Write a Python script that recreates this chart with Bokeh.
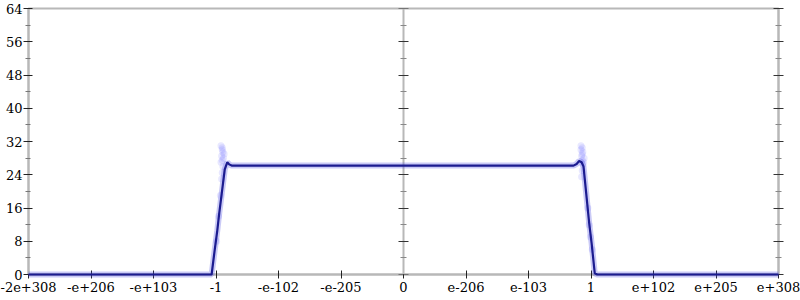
from bokeh.plotting import figure
from bokeh.models import LinearAxis, FixedTicker, Range1d
from bokeh.embed import file_html
from bokeh.resources import INLINE

# x positions are in "flonum ordinal" display units (one unit per tick)
x_ticks = [-6, -5, -4, -3, -2, -1, 0, 1, 2, 3, 4, 5, 6]
x_labels = ["-2e+308", "-e+206", "-e+103", "-1", "-e-102", "-e-205", "0",
            "e-206", "e-103", "1", "e+102", "e+205", "e+308"]
y_ticks = [0, 8, 16, 24, 32, 40, 48, 56, 64]
y_minor = [4, 12, 20, 28, 36, 44, 52, 60]

# density curve
line_x = [-6, -3.07, -3.02, -2.98, -2.95, -2.9, -2.86, -2.82, -2.79, -2.75,
          -1.5, 0, 1.5, 2.72, 2.77, 2.81, 2.85, 2.88, 2.93, 2.97, 3.01, 3.06, 3.1, 6]
line_y = [0, 0, 6, 10.5, 14.5, 20.5, 25.3, 27.0, 26.5, 26.2,
          26.2, 26.2, 26.2, 26.2, 26.6, 27.3, 27.0, 26.0, 18.5, 12.5, 7.5, 0.3, 0, 0]

# faint sample points (spikes near the ±1 edges)
pts_x = [-2.91, -2.90, -2.89, -2.90, -2.91, -2.89, -2.90, -2.92, -2.90, -2.88,
         -2.96, -2.93, -2.99, -2.87, -2.92,
         2.85, 2.86, 2.87, 2.86, 2.85, 2.87, 2.86, 2.84, 2.86, 2.88,
         2.95, 2.99, 3.02, 2.97, 2.89, 2.84]
pts_y = [23.0, 24.5, 26.0, 27.5, 28.5, 29.5, 30.5, 31.0, 30.0, 28.0,
         14.0, 19.0, 8.0, 29.0, 27.0,
         23.5, 25.0, 26.5, 27.5, 28.5, 29.5, 30.5, 31.0, 29.0, 27.0,
         16.0, 9.0, 6.0, 12.0, 28.0, 30.0]

FONT = "DejaVu Serif"
AXIS_GRAY = "#b8b8b8"

p = figure(width=800, height=300, x_range=Range1d(-6, 6), y_range=Range1d(0, 64),
           output_backend="svg", toolbar_location=None,
           min_border_left=28, min_border_right=22, min_border_top=8, min_border_bottom=26)
p.grid.visible = False
p.outline_line_color = AXIS_GRAY
p.outline_line_width = 2
p.background_fill_color = "white"
p.border_fill_color = "white"

# bottom axis
xa = p.xaxis[0]
xa.ticker = FixedTicker(ticks=x_ticks)
xa.major_label_overrides = {t: l for t, l in zip(x_ticks, x_labels)}
xa.axis_line_color = AXIS_GRAY
xa.axis_line_width = 2
xa.major_tick_in = 4
xa.major_tick_out = 4
xa.major_tick_line_color = "#222222"
xa.minor_tick_line_color = None
xa.major_label_text_font = FONT
xa.major_label_text_font_size = "13px"
xa.major_label_text_color = "black"
xa.major_label_standoff = 3

# left axis
ya = p.yaxis[0]
ya.ticker = FixedTicker(ticks=y_ticks, minor_ticks=y_minor)
ya.axis_line_color = AXIS_GRAY
ya.axis_line_width = 2
ya.major_tick_in = 4
ya.major_tick_out = 5
ya.minor_tick_in = 2
ya.minor_tick_out = 3
ya.major_tick_line_color = "#222222"
ya.minor_tick_line_color = "#777777"
ya.major_label_text_font = FONT
ya.major_label_text_font_size = "13px"
ya.major_label_text_color = "black"
ya.major_label_standoff = 1


def bare_axis(**kw):
    ax = LinearAxis(ticker=FixedTicker(ticks=y_ticks, minor_ticks=y_minor), **kw)
    ax.axis_line_color = AXIS_GRAY
    ax.axis_line_width = 2
    ax.major_tick_in = 5
    ax.major_tick_out = 5
    ax.minor_tick_in = 3
    ax.minor_tick_out = 3
    ax.major_tick_line_color = "#333333"
    ax.minor_tick_line_color = "#888888"
    ax.major_label_overrides = {t: "" for t in y_ticks}
    ax.major_label_text_font_size = "1px"
    ax.major_label_standoff = 0
    return ax


p.add_layout(bare_axis(), "right")
p.add_layout(bare_axis(fixed_location=0), "right")

# faint band and points
p.line(line_x, line_y, line_width=6, color="#5050e0", alpha=0.3, level="overlay")
p.scatter(pts_x, pts_y, size=7, color="#5a5aff", alpha=0.14, line_color=None)
p.line(line_x, line_y, line_width=2.2, color="#1c1c90", level="overlay")

open("out.html", "w").write(file_html(p, INLINE))
